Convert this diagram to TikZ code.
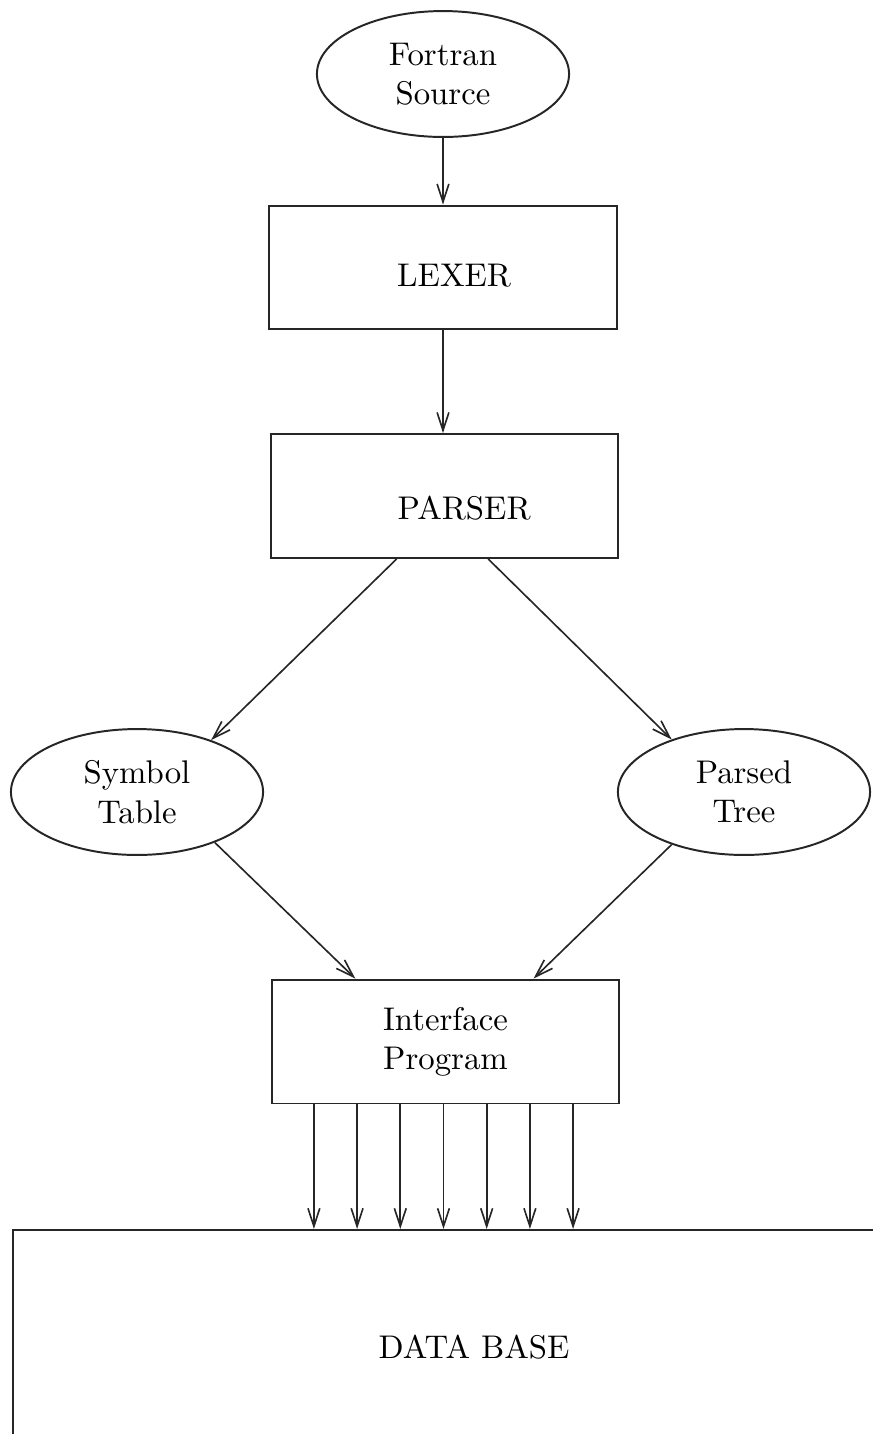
\documentclass[tikz,border=0pt]{standalone}
\usepackage{tikz}
\usetikzlibrary{arrows.meta, positioning, calc, shapes.geometric}

\begin{document}
\begin{tikzpicture}[x=0.305pt,y=-0.305pt,
  stage/.style={draw=black!85,line width=0.6pt,rectangle,minimum width=106pt,minimum height=37.8pt,inner sep=0pt,align=center},
  store/.style={draw=black!85,line width=0.6pt,ellipse,minimum width=76.9pt,minimum height=38.4pt,inner sep=0pt,align=center},
  flow/.style={draw=black!85,line width=0.5pt,-{Straight Barb[length=5.5pt,width=3.6pt]}}]
\useasboundingbox (0,0) rectangle (873,1434);
% Source file
\node[store] (src) at (443,74) {Fortran\\Source};
% Lexer and parser
\node[stage,label={[xshift=3.4pt,yshift=-2.4pt]center:LEXER}] (lexer) at (443,267.5) {};
\node[stage,label={[xshift=6pt,yshift=-3.7pt]center:PARSER}] (parser) at (444.5,496) {};
% Parser output
\node[store] (symtab) at (137,792) {Symbol\\Table};
\node[store] (tree) at (744,792) {Parsed\\Tree};
% Interface and data base
\node[stage] (iface) at (445.5,1041.5) {Interface\\Program};
\node[stage,minimum width=281pt,minimum height=71.4pt] (db) at (474,1347) {DATA BASE};
% Connectors
\draw[flow] (src) -- (lexer);
\draw[flow] (lexer.south) -- (lexer.south |- parser.north);
\draw[flow] ($(parser.south west)!0.363!(parser.south east)$) -- (symtab.35);
\draw[flow] ($(parser.south west)!0.625!(parser.south east)$) -- (tree.144);
\draw[flow] (symtab.-33) -- ($(iface.north west)!0.242!(iface.north east)$);
\draw[flow] (tree.216) -- ($(iface.north west)!0.752!(iface.north east)$);
% Links into the data base
\foreach \i in {-3,...,3}
  \draw[flow] ($(iface.south)+(\i*43.2-2,0)$) coordinate (p) -- (p |- db.north);
\end{tikzpicture}
\end{document}
